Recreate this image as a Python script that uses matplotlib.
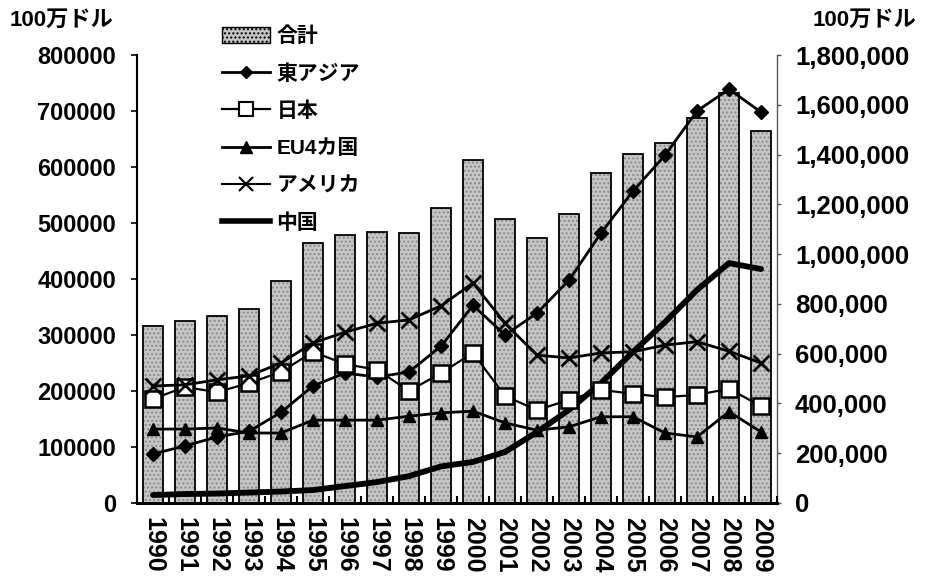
import matplotlib
matplotlib.use("Agg")
import matplotlib.pyplot as plt
from matplotlib.patches import Patch
from matplotlib.lines import Line2D
from matplotlib.ticker import FuncFormatter, MultipleLocator
import numpy as np

plt.rcParams['font.family'] = ['Liberation Sans', 'Noto Sans CJK JP']
plt.rcParams['font.weight'] = 'bold'

years = [str(y) for y in range(1990, 2010)]

# 100万ドル, right axis
total = [711000, 731000, 751000, 779000, 892000, 1045000, 1077000, 1089000, 1085000, 1185000,
         1378000, 1141000, 1065000, 1161000, 1326000, 1404000, 1446000, 1547000, 1647000, 1495000]
china = [32000, 36000, 38000, 42000, 46000, 52000, 68000, 84000, 108000, 147000,
         165000, 205000, 285000, 374000, 482000, 607000, 727000, 856000, 964000, 940000]

# 100万ドル, left axis
east_asia = [87500, 102000, 118000, 128000, 162000, 209000, 232000, 225000, 234000, 280000,
             353000, 300000, 339000, 398000, 482000, 557000, 621000, 700000, 739000, 698000]
japan = [186000, 207000, 198000, 214000, 234000, 270000, 248000, 238000, 200000, 232000,
         268000, 191000, 166000, 184000, 202000, 195000, 189000, 193000, 204000, 173000]
eu4 = [132000, 132000, 134000, 125000, 125000, 148000, 148000, 148000, 155000, 161000,
       164000, 143000, 130000, 136000, 154000, 154000, 125000, 118000, 163000, 127000]
usa = [209000, 211000, 220000, 227000, 250000, 286000, 305000, 321000, 327000, 352000,
       393000, 321000, 264000, 259000, 268000, 270000, 282000, 288000, 271000, 250000]

labels = ['合計', '東アジア', '日本', 'EU4カ国', 'アメリカ', '中国']

x = np.arange(len(years))

fig = plt.figure(figsize=(9.43, 5.82), dpi=100)
ax = fig.add_axes([137 / 943, 79 / 582, 640 / 943, 448 / 582])
ax2 = ax.twinx()

# bars and China on the right scale, drawn underneath the left-scale lines
ax2.bar(x, total, width=0.62, color='#c6c6c6', edgecolor='#8a8a8a', hatch='....', linewidth=0, zorder=1)
ax2.bar(x, total, width=0.62, fill=False, edgecolor='black', linewidth=1.3, zorder=2)
ax2.plot(x, china, color='black', linewidth=4.2, solid_capstyle='round', zorder=3)

ax.plot(x, east_asia, color='black', lw=2, marker='D', ms=7, mfc='black', mec='black', zorder=5)
ax.plot(x, japan, color='black', lw=1.6, marker='s', ms=11, mfc='white', mec='black', mew=1.8, zorder=5)
ax.plot(x, eu4, color='black', lw=2, marker='^', ms=9, mfc='black', mec='black', zorder=5)
ax.plot(x, usa, color='black', lw=2, marker='x', ms=11, mew=2, zorder=5)

ax.set_zorder(ax2.get_zorder() + 1)
ax.patch.set_visible(False)

ax.set_xlim(-0.5, len(years) - 0.5)
ax.set_ylim(0, 800000)
ax2.set_ylim(0, 1800000)

ax.yaxis.set_major_locator(MultipleLocator(100000))
ax2.yaxis.set_major_locator(MultipleLocator(200000))
ax2.yaxis.set_major_formatter(FuncFormatter(lambda v, p: f'{int(v):,}'))

ax.spines['top'].set_visible(False)
ax2.spines['top'].set_visible(False)
ax.spines['right'].set_visible(False)
ax2.spines['left'].set_visible(False)
ax2.spines['bottom'].set_visible(False)
ax.spines['left'].set_linewidth(1.5)
ax.spines['bottom'].set_linewidth(2.2)
ax2.spines['right'].set_linestyle((0, (1, 1)))
ax2.spines['right'].set_color('#555555')
ax2.spines['right'].set_linewidth(1)

ax.set_xticks(x)
ax.set_xticklabels(years, rotation=270, fontsize=18, fontweight='bold')
ax.tick_params(axis='x', which='major', length=0, pad=10)
ax.set_xticks(np.arange(-0.5, len(years), 1), minor=True)
ax.tick_params(axis='x', which='minor', direction='in', length=5, width=1.5)

ax.tick_params(axis='y', direction='out', length=4, width=1.2, pad=11, labelsize=17)
ax2.tick_params(axis='y', direction='out', length=3, width=1, colors='#555555', pad=10,
                labelsize=18.5, labelcolor='black')
for t in ax.get_yticklabels() + ax2.get_yticklabels():
    t.set_fontweight('bold')

fig.text(10 / 943, 1 - 20 / 582, '100万ドル', fontsize=16, fontweight='bold', va='center', ha='left')
fig.text(916 / 943, 1 - 20 / 582, '100万ドル', fontsize=16, fontweight='bold', va='center', ha='right')

handles = [
    Patch(facecolor='#c6c6c6', edgecolor='black', hatch='....', linewidth=1),
    Line2D([], [], color='black', lw=2, marker='D', ms=6, mfc='black'),
    Line2D([], [], color='black', lw=1.6, marker='s', ms=10, mfc='white', mew=1.5),
    Line2D([], [], color='black', lw=2, marker='^', ms=8, mfc='black'),
    Line2D([], [], color='black', lw=1.5, marker='x', ms=10, mew=1.5),
    Line2D([], [], color='black', lw=4),
]
leg = fig.legend(handles, labels, loc='upper left', bbox_to_anchor=(214 / 943, 1 - 18 / 582),
                 frameon=False, prop={'size': 15, 'weight': 'bold'},
                 handlelength=2.3, handleheight=0.8, labelspacing=0.86, handletextpad=0.3,
                 borderaxespad=0)

fig.savefig('out.png', dpi=100)
